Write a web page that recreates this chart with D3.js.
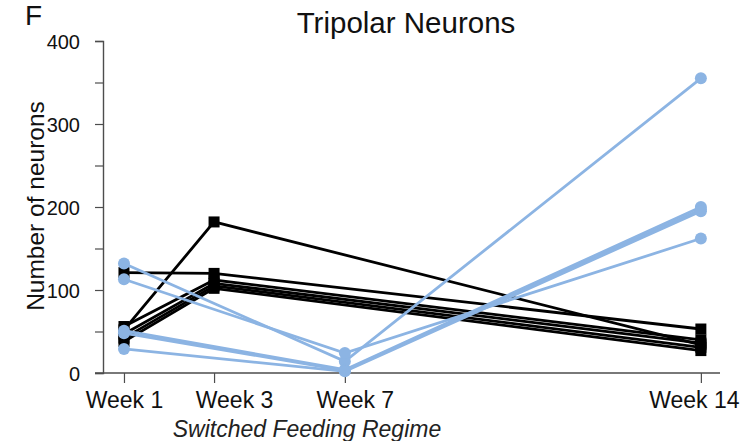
<!DOCTYPE html>
<html>
<head>
<meta charset="utf-8">
<script src="https://cdn.jsdelivr.net/npm/d3@7"></script>
<style>
  html, body { margin: 0; padding: 0; background: #fff; }
  svg { display: block; font-family: "Liberation Sans", Arial, sans-serif; }
</style>
</head>
<body>
<svg id="chart" width="746" height="441"></svg>
<script>
// Time points (weeks) and their axis labels
const weeks = [1, 3, 7, 14];
const weekLabels = ["Week 1", "Week 3", "Week 7", "Week 14"];
const yTicks = [0, 50, 100, 150, 200, 250, 300, 350, 400];

// Black series (squares): sampled at weeks 1, 3 and 14
const blackWeeks = [1, 3, 14];
const blackA = [52, 182, 34];
const blackB = [121, 120, 53];
const blackC = [56, 112, 40];
const blackD = [47, 108, 36];
const blackE = [42, 105, 31];
const blackF = [38, 102, 27];

// Blue series (circles): sampled at weeks 1, 7 and 14
const blueWeeks = [1, 7, 14];
const blueA = [132, 14, 355];
const blueB = [113, 24, 162];
const blueC = [51, 4, 200];
const blueD = [48, 3, 197];
const blueE = [29, 2, 195];

const blackSeries = [blackA, blackB, blackC, blackD, blackE, blackF];
const blueSeries = [blueA, blueB, blueC, blueD, blueE];

const svg = d3.select("#chart");
const plot = { left: 103, right: 720, top: 41, bottom: 373 };

// Week positions along the x axis (piecewise, as in the layout of the figure)
const x = d3.scaleLinear()
  .domain(weeks)
  .range([0.034, 0.18, 0.392, 0.969].map(f => plot.left + f * (plot.right - plot.left)));
const y = d3.scaleLinear().domain([0, 400]).range([plot.bottom, plot.top]);

const axisColor = "#4d4d4d";
const blue = "#8cb4e3";

// Y axis: labelled every 100, minor ticks every 50
const yAxis = d3.axisLeft(y)
  .tickValues(yTicks)
  .tickSize(8)
  .tickFormat(d => d % 100 === 0 ? d : "");
const gy = svg.append("g").attr("transform", `translate(${plot.left},0)`).call(yAxis);
gy.select(".domain").attr("stroke", axisColor).attr("stroke-width", 1.4);
gy.selectAll(".tick line").attr("stroke", axisColor).attr("stroke-width", 1.2);
gy.selectAll(".tick text")
  .attr("font-size", 20).attr("fill", "#111")
  .attr("x", -23).attr("dy", "0.36em");

// X axis; the category labels sit a little off their ticks
const labelShift = [0, 20, 10, -7];
const xAxis = d3.axisBottom(x)
  .tickValues(weeks)
  .tickSize(10)
  .tickFormat((d, i) => weekLabels[i]);
const gx = svg.append("g").attr("transform", `translate(0,${plot.bottom})`).call(xAxis);
gx.select(".domain").attr("d", `M${plot.left - 8},0H${plot.right}`)
  .attr("stroke", axisColor).attr("stroke-width", 1.4);
gx.selectAll(".tick line").attr("stroke", axisColor).attr("stroke-width", 1.2);
gx.selectAll(".tick text")
  .attr("font-size", 23).attr("fill", "#111")
  .attr("x", (d, i) => labelShift[i])
  .attr("y", 19).attr("dy", "0.71em");

// Lines and markers
const lineOf = (ws) => d3.line().x((d, i) => x(ws[i])).y(d => y(d));

const gBlack = svg.append("g");
blackSeries.forEach(s => {
  gBlack.append("path").attr("d", lineOf(blackWeeks)(s))
    .attr("fill", "none").attr("stroke", "#000").attr("stroke-width", 2.8);
});
blackSeries.forEach(s => {
  gBlack.selectAll(null).data(s).enter().append("rect")
    .attr("x", (d, i) => x(blackWeeks[i]) - 5.5)
    .attr("y", d => y(d) - 5.5)
    .attr("width", 11).attr("height", 11)
    .attr("fill", "#000");
});

const gBlue = svg.append("g");
blueSeries.forEach(s => {
  gBlue.append("path").attr("d", lineOf(blueWeeks)(s))
    .attr("fill", "none").attr("stroke", blue).attr("stroke-width", 2.8);
});
blueSeries.forEach(s => {
  gBlue.selectAll(null).data(s).enter().append("circle")
    .attr("cx", (d, i) => x(blueWeeks[i]))
    .attr("cy", d => y(d))
    .attr("r", 6)
    .attr("fill", blue);
});

// Text
svg.append("text").attr("x", 25).attr("y", 25)
  .attr("font-size", 28).attr("fill", "#111").text("F");
svg.append("text").attr("x", 406).attr("y", 33)
  .attr("text-anchor", "middle").attr("font-size", 29.5).attr("fill", "#111")
  .text("Tripolar Neurons");
svg.append("text")
  .attr("transform", "translate(44,206) rotate(-90)")
  .attr("text-anchor", "middle").attr("font-size", 24.5).attr("fill", "#111")
  .text("Number of neurons");
svg.append("text").attr("x", 307).attr("y", 437)
  .attr("text-anchor", "middle").attr("font-size", 23)
  .attr("font-style", "italic").attr("fill", "#222")
  .text("Switched Feeding Regime");
</script>
</body>
</html>
